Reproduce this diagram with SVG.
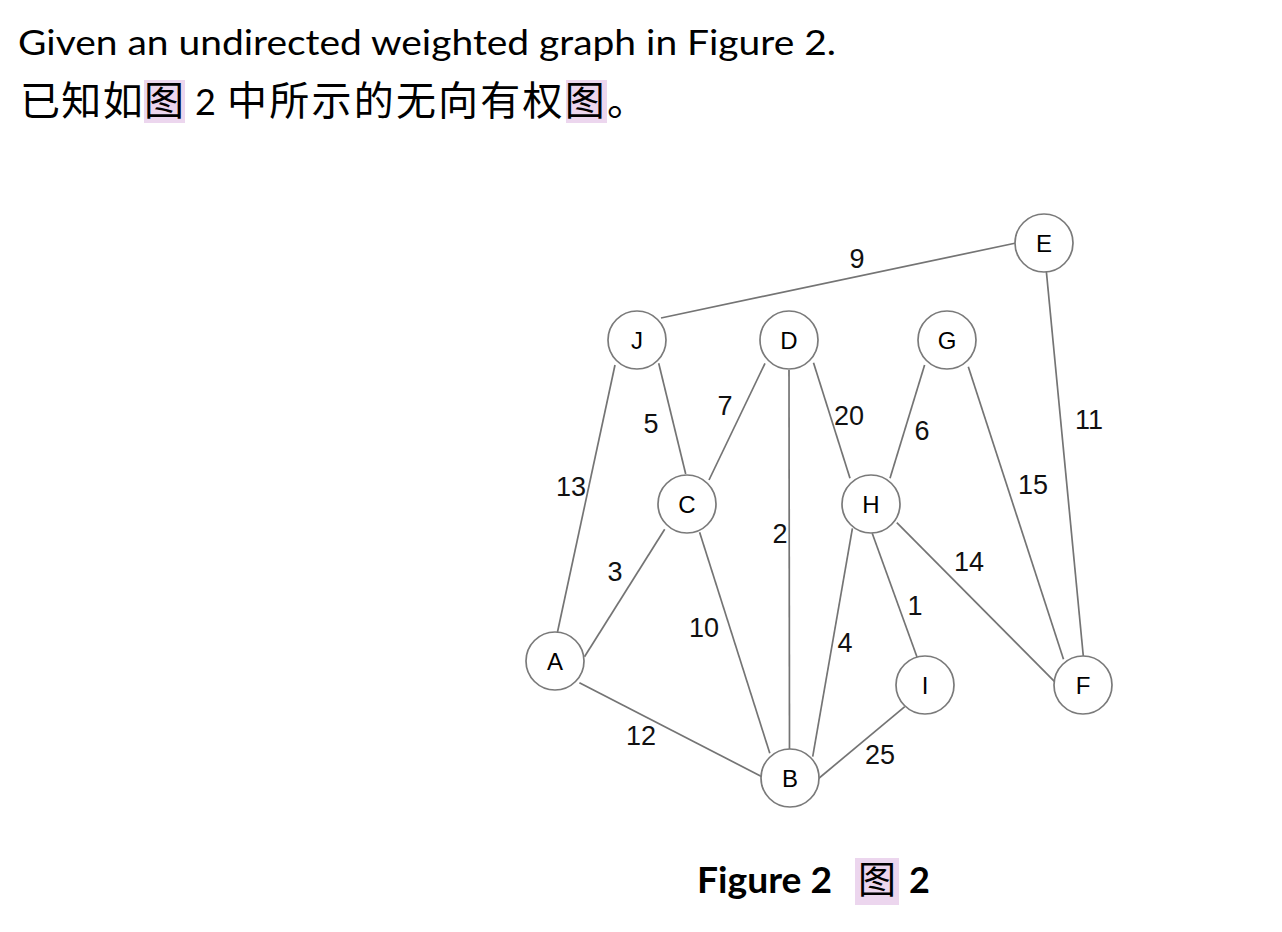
<svg xmlns="http://www.w3.org/2000/svg" width="1282" height="932" viewBox="0 0 1282 932">
<style>
.hl{fill:#ecd6ee}
.para{font-family:Lato,"Liberation Sans","Noto Sans CJK SC",sans-serif;fill:#000}
.cjk{font-family:"Noto Sans CJK SC",sans-serif;fill:#000}
.edge{stroke:#747474;stroke-width:1.7;fill:none}
.node circle{fill:#fff;stroke:#7a7a7a;stroke-width:1.7}
.node text{font-family:"Liberation Sans",Arial,sans-serif;font-size:24px;text-anchor:middle;fill:#000}
.lbl{font-family:"Liberation Sans",Arial,sans-serif;font-size:27px;text-anchor:middle;fill:#111}
</style>
<rect width="1282" height="932" fill="#fff"/>
<text class="para" x="18" y="55" font-size="34" textLength="818" lengthAdjust="spacingAndGlyphs">Given an undirected weighted graph in Figure 2.</text>
<rect class="hl" x="144" y="80" width="41" height="43"/>
<rect class="hl" x="566" y="80" width="41" height="43"/>
<text class="cjk" x="20" y="115" font-size="40" textLength="164" lengthAdjust="spacing">已知如图</text>
<text class="para" x="195" y="115" font-size="36">2</text>
<text class="cjk" x="227" y="115" font-size="40" textLength="420" lengthAdjust="spacing">中所示的无向有权图。</text>
<g id="connectors">
<line class="edge" x1="661" y1="318" x2="1016" y2="243"/>
<line class="edge" x1="615" y1="365" x2="557.5" y2="632"/>
<line class="edge" x1="658.7" y1="363.3" x2="685.7" y2="474"/>
<line class="edge" x1="765" y1="363.3" x2="709" y2="480"/>
<line class="edge" x1="789" y1="370" x2="789.5" y2="749.5"/>
<line class="edge" x1="813.5" y1="362.7" x2="850" y2="478.3"/>
<line class="edge" x1="924.6" y1="365" x2="890" y2="478.3"/>
<line class="edge" x1="968.3" y1="366.7" x2="1063.5" y2="659.3"/>
<line class="edge" x1="1046.4" y1="272" x2="1083.3" y2="656"/>
<line class="edge" x1="664.7" y1="529.3" x2="584.5" y2="656.7"/>
<line class="edge" x1="699.6" y1="532.3" x2="769.8" y2="753.3"/>
<line class="edge" x1="579.4" y1="682.7" x2="761.9" y2="776.7"/>
<line class="edge" x1="852.4" y1="528.3" x2="812.7" y2="756.7"/>
<line class="edge" x1="872.2" y1="533.3" x2="917" y2="657"/>
<line class="edge" x1="896.8" y1="522.7" x2="1055.6" y2="682.7"/>
<line class="edge" x1="818" y1="779" x2="904.8" y2="706.7"/>
</g>
<g id="edge-labels">
<text class="lbl" x="857" y="268">9</text>
<text class="lbl" x="651" y="433">5</text>
<text class="lbl" x="571" y="496">13</text>
<text class="lbl" x="725" y="415">7</text>
<text class="lbl" x="849" y="425">20</text>
<text class="lbl" x="922" y="440">6</text>
<text class="lbl" x="1089" y="429">11</text>
<text class="lbl" x="1033" y="494">15</text>
<text class="lbl" x="780" y="543">2</text>
<text class="lbl" x="615" y="581">3</text>
<text class="lbl" x="704" y="637">10</text>
<text class="lbl" x="969" y="571">14</text>
<text class="lbl" x="915" y="615">1</text>
<text class="lbl" x="845" y="652">4</text>
<text class="lbl" x="641" y="745">12</text>
<text class="lbl" x="880" y="764">25</text>
</g>
<g id="node-E" class="node"><circle cx="1044" cy="243" r="29"/><text x="1044" y="251.5">E</text></g>
<g id="node-J" class="node"><circle cx="637" cy="340" r="29"/><text x="637" y="348.5">J</text></g>
<g id="node-D" class="node"><circle cx="789" cy="340" r="29"/><text x="789" y="348.5">D</text></g>
<g id="node-G" class="node"><circle cx="947" cy="340" r="29"/><text x="947" y="348.5">G</text></g>
<g id="node-C" class="node"><circle cx="687" cy="504" r="29"/><text x="687" y="512.5">C</text></g>
<g id="node-H" class="node"><circle cx="871" cy="504" r="29"/><text x="871" y="512.5">H</text></g>
<g id="node-A" class="node"><circle cx="555" cy="661" r="29"/><text x="555" y="669.5">A</text></g>
<g id="node-I" class="node"><circle cx="925" cy="685" r="29"/><text x="925" y="693.5">I</text></g>
<g id="node-F" class="node"><circle cx="1083" cy="685" r="29"/><text x="1083" y="693.5">F</text></g>
<g id="node-B" class="node"><circle cx="790" cy="778" r="29"/><text x="790" y="786.5">B</text></g>
<rect class="hl" x="855" y="858" width="44" height="47"/>
<text class="para" x="697" y="893" font-size="36" font-weight="bold" textLength="135" lengthAdjust="spacingAndGlyphs">Figure 2</text>
<text class="cjk" x="858" y="893" font-size="38">图</text>
<text class="para" x="909" y="893" font-size="36" font-weight="bold">2</text>
</svg>
